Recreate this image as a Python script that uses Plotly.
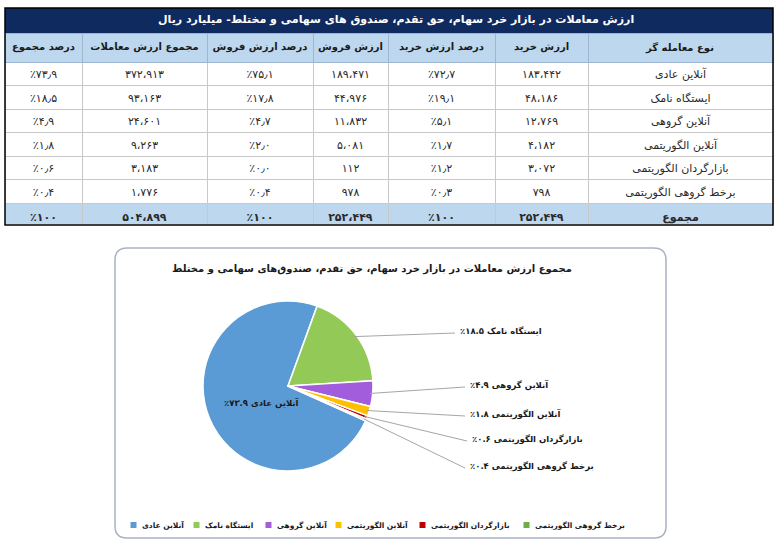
import math
import plotly.graph_objects as go

W, H = 781, 544

traders = ["آنلاین عادی", "ایستگاه نامک", "آنلاین گروهی", "آنلاین الگوریتمی",
           "بازارگردان الگوریتمی", "برخط گروهی الگوریتمی"]
buy_value = [183442, 48186, 12769, 4182, 3072, 798]
buy_pct = [72.7, 19.1, 5.1, 1.7, 1.2, 0.3]
sell_value = [189471, 44976, 11832, 5081, 112, 978]
sell_pct = [75.1, 17.8, 4.7, 2.0, 0.0, 0.4]
total_value = [372913, 93163, 24601, 9263, 3183, 1776]
total_pct = [73.9, 18.5, 4.9, 1.8, 0.6, 0.4]

sum_label = "مجموع"
sum_buy, sum_sell, sum_total = 252449, 252449, 504899
sum_pct = 100

headers = ["نوع معامله گر", "ارزش خرید", "درصد ارزش خرید", "ارزش فروش",
           "درصد ارزش فروش", "مجموع ارزش معاملات", "درصد مجموع"]
table_title = "ارزش معاملات در بازار خرد سهام، حق تقدم، صندوق های سهامی و مختلط- میلیارد ریال"
pie_title = "مجموع ارزش معاملات در بازار خرد سهام، حق تقدم، صندوق‌های سهامی و مختلط"

slice_colors = ["#5B9BD5", "#92C957", "#A25DDC", "#FFC000", "#C00000", "#70AD47"]

FONT = "DejaVu Sans"
FA = str.maketrans("0123456789", "۰۱۲۳۴۵۶۷۸۹")
NBSP = "\u00a0"


def fa_num(v):
    return f"{v:,}".replace(",", "،").translate(FA)


def fa_pct(p, sep="٫"):
    s = "100" if p == 100 else f"{p:.1f}"
    return "٪" + s.replace(".", sep).translate(FA)


def px(x):
    return x / W


def py(y):
    return 1 - y / H


def note(text, x, y, size, color="#1a1a1a", xanchor="center"):
    return dict(text=text, x=px(x), y=py(y), xref="paper", yref="paper",
                xanchor=xanchor, yanchor="middle", showarrow=False,
                font=dict(family=FONT, size=size, color=color))


# ---- table (columns listed right-to-left, then flipped for plotly) ----
columns = [
    traders + [f"<b>{sum_label}</b>"],
    [fa_num(v) for v in buy_value] + [f"<b>{fa_num(sum_buy)}</b>"],
    [fa_pct(p) for p in buy_pct] + [f"<b>{fa_pct(sum_pct)}</b>"],
    [fa_num(v) for v in sell_value] + [f"<b>{fa_num(sum_sell)}</b>"],
    [fa_pct(p) for p in sell_pct] + [f"<b>{fa_pct(sum_pct)}</b>"],
    [fa_num(v) for v in total_value] + [f"<b>{fa_num(sum_total)}</b>"],
    [fa_pct(p) for p in total_pct] + [f"<b>{fa_pct(sum_pct)}</b>"],
]
col_widths = [185, 93, 107, 75, 106, 125, 77]
row_fill = ["white"] * len(traders) + ["#BDD7EE"]

fig = go.Figure()
fig.add_trace(go.Table(
    domain=dict(x=[px(5), px(773)], y=[py(225), py(33)]),
    columnwidth=col_widths[::-1],
    header=dict(
        values=[f"<b>{h.replace(' ', NBSP)}</b>" for h in headers[::-1]],
        fill_color="#BDD7EE", line=dict(color="#9FB6D0", width=1),
        align="center", height=24,
        font=dict(family=FONT, size=10, color="#1a1a1a"),
    ),
    cells=dict(
        values=columns[::-1],
        fill_color=[row_fill] * len(columns),
        line=dict(color="#C8C8C8", width=1),
        align="center", height=23.5,
        font=dict(family=FONT, size=11, color="#2a2a2a"),
    ),
))

# ---- pie ----
pie_cx, pie_cy, pie_r = 288, 386, 85
first_start = 20  # degrees clockwise from 12 o'clock where the second slice begins
total = sum(total_value)
rotation = first_start + 360 * sum(total_value[1:]) / total

fig.add_trace(go.Pie(
    labels=traders, values=total_value, sort=False, direction="clockwise",
    rotation=rotation, textinfo="none", hoverinfo="label+percent",
    marker=dict(colors=slice_colors, line=dict(color="white", width=1.5)),
    domain=dict(x=[px(pie_cx - pie_r), px(pie_cx + pie_r)],
                y=[py(pie_cy + pie_r), py(pie_cy - pie_r)]),
    showlegend=False,
))

shapes = [
    dict(type="rect", xref="paper", yref="paper", x0=px(5), x1=px(773),
         y0=py(33), y1=py(8), fillcolor="#0E2A5E", line=dict(width=0), layer="below"),
    dict(type="rect", xref="paper", yref="paper", x0=px(5), x1=px(773),
         y0=py(225), y1=py(8), line=dict(color="black", width=1.5), layer="above"),
]

# rounded frame around the pie
bx0, bx1, by0, by1, rad = 115, 666, 248, 538, 12
path = (f"M {px(bx0 + rad)},{py(by0)} L {px(bx1 - rad)},{py(by0)} "
        f"Q {px(bx1)},{py(by0)} {px(bx1)},{py(by0 + rad)} "
        f"L {px(bx1)},{py(by1 - rad)} Q {px(bx1)},{py(by1)} {px(bx1 - rad)},{py(by1)} "
        f"L {px(bx0 + rad)},{py(by1)} Q {px(bx0)},{py(by1)} {px(bx0)},{py(by1 - rad)} "
        f"L {px(bx0)},{py(by0 + rad)} Q {px(bx0)},{py(by0)} {px(bx0 + rad)},{py(by0)} Z")
shapes.append(dict(type="path", xref="paper", yref="paper", path=path,
                   line=dict(color="#A9B1C2", width=1.5), layer="below"))

annotations = [
    note(f"<b>{table_title}</b>", 396, 20, 11, color="white"),
    note(f"<b>{pie_title}</b>", 372, 269, 10),
]

# slice labels with leader lines
label_x = [None, 458, 468, 468, 470, 468]
label_y = [None, 331, 385, 414, 439, 466]
cum = rotation
for i, v in enumerate(total_value):
    ang = 360 * v / total
    mid = math.radians(cum + ang / 2)
    cum += ang
    text = f"<b>{fa_pct(total_pct[i], '.')} {traders[i]}</b>"
    if i == 0:
        annotations.append(note(text, 262, 403, 8.5))
        continue
    sx = pie_cx + pie_r * 0.97 * math.sin(mid)
    sy = pie_cy - pie_r * 0.97 * math.cos(mid)
    shapes.append(dict(type="line", xref="paper", yref="paper",
                       x0=px(sx), y0=py(sy), x1=px(label_x[i] - 3), y1=py(label_y[i] + 2),
                       line=dict(color="#A6A6A6", width=1)))
    annotations.append(note(text, label_x[i], label_y[i], 8.5, xanchor="left"))

# legend drawn by hand so the entries sit as tightly as in the original
legend_text_w = [45, 54, 52, 66, 86, 92]   # approximate rendered label widths at 7.5px
legend_y = 525
lx = 382 - (sum(legend_text_w) + 18 * len(legend_text_w)) / 2
for name, color, tw in zip(traders, slice_colors, legend_text_w):
    shapes.append(dict(type="rect", xref="paper", yref="paper",
                       x0=px(lx), x1=px(lx + 6), y0=py(legend_y + 3), y1=py(legend_y - 3),
                       fillcolor=color, line=dict(width=0)))
    annotations.append(note(f"<b>{name}</b>", lx + 9, legend_y, 7.5, xanchor="left"))
    lx += tw + 18

fig.update_layout(
    width=W, height=H, margin=dict(l=0, r=0, t=0, b=0),
    paper_bgcolor="white", plot_bgcolor="white",
    font=dict(family=FONT),
    shapes=shapes, annotations=annotations, showlegend=False,
)

fig.write_html("out.html", config={"displayModeBar": False},
               post_script="document.body.style.margin='0';")
